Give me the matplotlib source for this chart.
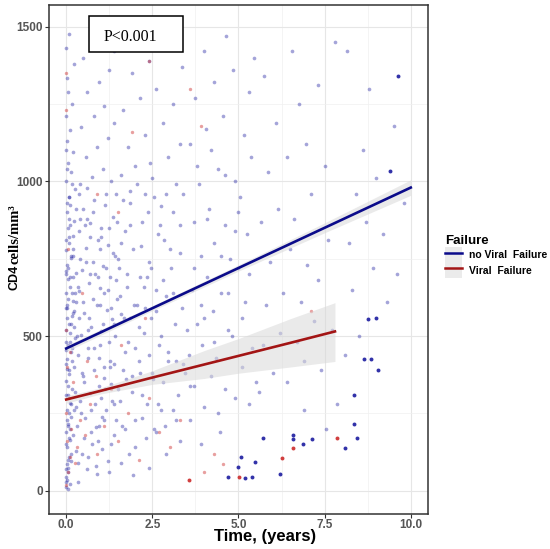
import matplotlib
matplotlib.use("Agg")
import matplotlib.pyplot as plt
from matplotlib.lines import Line2D
from matplotlib.patches import Patch, Rectangle
from matplotlib.ticker import MultipleLocator

# CD4 count vs time, coloured by viral failure

# no viral failure: follow-up time (years), CD4 cells/mm3
blue_t = [
    0.0, 0.02, 0.05, 0.01, 0.08, 0.03, 0.12, 0.0, 0.06, 0.15, 0.02, 0.1, 0.04, 0.18, 0.0, 0.07, 0.22, 0.01, 0.13, 0.05,
    0.25, 0.0, 0.09, 0.16, 0.03, 0.2, 0.0, 0.11, 0.06, 0.27, 0.02, 0.14, 0.0, 0.08, 0.19, 0.04, 0.23, 0.01, 0.12, 0.07,
    0.26, 0.0, 0.15, 0.05, 0.21, 0.02, 0.1, 0.0, 0.17, 0.06, 0.01, 0.24, 0.0, 0.09, 0.0, 0.04, 0.1, 0.14, 0.0, 0.2,
    0.07, 0.28, 0.03, 0.17, 0.0, 0.11, 0.24, 0.05, 0.19, 0.0, 0.13, 0.28, 0.08, 0.0, 0.22,
    0.35, 0.6, 0.9, 1.2, 0.45, 0.75, 1.05, 1.4, 0.32, 0.55, 0.85, 1.15, 1.45, 0.4, 0.7, 1.0, 1.3, 0.5, 0.8, 1.1,
    1.38, 0.33, 0.62, 0.95, 1.25, 0.42, 0.72, 1.02, 1.33, 0.52, 0.88, 1.18, 1.48, 0.36, 0.66, 0.98, 1.28, 0.47, 0.78, 1.08,
    1.42, 0.58, 0.92, 1.22, 0.38, 0.68, 1.0, 1.35, 0.5, 0.82, 1.12, 1.45, 0.4, 0.74, 1.06, 1.3, 0.56, 0.9, 1.2, 0.44,
    0.8, 1.1, 1.4, 0.6, 0.95, 1.25, 0.48, 0.85, 1.15, 1.38, 0.37, 0.64, 0.97, 1.27, 0.53, 0.83, 1.13, 0.43, 0.73, 1.03,
    1.33, 0.63, 0.93, 1.23, 0.39, 0.69, 1.09, 1.39, 0.59, 0.99,
    1.6, 2.0, 2.4, 2.9, 3.3, 1.7, 2.2, 2.6, 3.1, 1.55, 1.9, 2.35, 2.8, 3.25, 1.65, 2.1, 2.5, 2.95, 3.4, 1.8,
    2.25, 2.7, 3.15, 1.6, 2.05, 2.45, 2.9, 3.35, 1.75, 2.15, 2.6, 3.05, 1.5, 1.95, 2.4, 2.85, 3.3, 1.7, 2.2, 2.65,
    3.1, 1.85, 2.3, 2.75, 3.2, 1.6, 2.0, 2.5, 2.95, 1.8, 2.3, 2.8, 3.3, 1.65, 2.15, 2.6, 3.1, 1.9, 2.4, 2.9,
    3.35, 2.2, 3.0, 2.55, 3.2, 1.95, 2.75, 3.45, 2.35, 1.85,
    3.6, 4.0, 4.4, 4.9, 5.3, 3.7, 4.2, 4.6, 5.1, 3.55, 3.95, 4.35, 4.8, 5.4, 3.8, 4.25, 4.7, 5.2, 3.65, 4.1,
    4.5, 5.0, 3.9, 4.3, 4.75, 5.25, 3.7, 4.15, 4.6, 5.05, 3.85, 4.4, 4.9, 5.35, 3.6, 4.05, 4.55, 5.15, 3.75, 4.3,
    4.85, 5.3, 4.0, 4.65, 5.45, 4.45, 3.9, 5.5,
    5.6, 6.0, 6.4, 6.9, 7.4, 5.7, 6.2, 6.7, 7.2, 7.7, 5.8, 6.3, 6.8, 7.3, 5.9, 6.5, 7.0, 7.6, 5.65, 6.15,
    6.6, 7.1, 5.85, 6.4, 6.95, 7.5, 6.1, 6.75, 7.3, 5.75, 6.55, 7.8, 7.85, 6.9, 7.55,
    8.1, 8.5, 9.3, 8.3, 8.9, 9.6, 8.2, 8.7, 9.2, 9.8, 8.4, 9.0, 8.6, 9.5, 8.8, 8.15,
]
blue_cd4 = [
    12, 35, 60, 88, 110, 140, 165, 190, 215, 240, 262, 285, 310, 330, 355, 378, 400, 425, 448, 470,
    495, 520, 540, 565, 590, 612, 640, 660, 685, 705, 730, 752, 778, 800, 825, 850, 872, 900, 925, 950,
    975, 1000, 1030, 1060, 1095, 1130, 1165, 1210, 1250, 1290, 1335, 1380, 1430, 1475, 45, 75, 22, 95, 150, 180,
    250, 270, 395, 420, 455, 510, 580, 620, 690, 710, 760, 610, 880, 590, 530,
    30, 70, 55, 95, 120, 150, 135, 180, 210, 235, 205, 260, 230, 290, 315, 300, 345, 370, 390, 365,
    410, 440, 460, 430, 480, 505, 530, 515, 555, 575, 600, 585, 620, 645, 670, 655, 690, 715, 740, 725,
    760, 785, 810, 795, 840, 865, 850, 885, 910, 940, 925, 960, 990, 1015, 1040, 1000, 1080, 1110, 1140, 1175,
    1210, 1245, 1190, 1290, 1320, 1360, 1400, 1440, 1470, 1420, 560, 520, 470, 420, 350, 280, 330, 250, 190, 240,
    290, 110, 160, 60, 750, 700, 640, 540, 880, 780,
    90, 140, 75, 120, 160, 200, 235, 190, 260, 290, 320, 280, 350, 310, 390, 420, 380, 450, 410, 480,
    510, 470, 540, 570, 600, 560, 630, 590, 660, 690, 650, 720, 750, 780, 740, 810, 770, 840, 870, 830,
    900, 930, 960, 920, 990, 1020, 1050, 1010, 1080, 1110, 1150, 1190, 1120, 1230, 1270, 1300, 1250, 1350, 1390, 1430,
    1370, 1480, 1460, 200, 230, 50, 260, 380, 690, 560,
    230, 270, 250, 300, 280, 340, 370, 330, 400, 440, 470, 430, 500, 460, 540, 580, 520, 610, 650, 690,
    640, 720, 760, 800, 750, 830, 870, 910, 860, 950, 990, 1040, 1000, 1080, 1120, 1170, 1210, 1150, 1270, 1320,
    1360, 1290, 1420, 1470, 1400, 190, 150, 350,
    320, 380, 350, 420, 390, 470, 510, 480, 550, 520, 600, 640, 610, 680, 740, 780, 730, 810, 870, 910,
    880, 960, 1030, 1080, 1120, 1050, 1190, 1250, 1310, 1340, 1420, 1450, 280, 260, 200,
    440, 500, 610, 650, 720, 700, 800, 870, 830, 930, 960, 1010, 1100, 1180, 1300, 1420,
]
# extra no-failure points where the cloud is densest (first years, below 1000)
blue_early_t = [
    0.0, 0.04, 0.09, 0.01, 0.14, 0.05, 0.0, 0.11, 0.03, 0.18, 0.0, 0.07, 0.02, 0.16, 0.0, 0.21, 0.06, 0.0, 0.12, 0.26,
    0.3, 0.34, 0.41, 0.46, 0.51, 0.57, 0.61, 0.67, 0.71, 0.77, 0.81, 0.87, 0.91, 0.96, 1.01, 1.07, 1.11, 1.16, 1.21, 1.26,
    1.31, 1.36, 1.41, 1.46, 1.51, 1.56, 1.61, 1.66, 1.71, 1.76, 1.81, 1.86, 1.91, 1.96, 2.01, 2.06, 2.11, 2.16, 2.21, 2.26,
    2.31, 2.36, 2.41, 2.46, 2.51, 2.56, 2.61, 2.66, 2.71, 2.76, 2.81, 2.86, 2.91, 2.96, 3.01, 0.33, 0.48, 0.63, 0.79, 0.94,
    1.09, 1.24, 1.39, 1.54, 1.69, 1.84, 1.99, 2.14, 2.29, 2.44, 0.38, 0.54, 0.69, 0.84, 0.99, 1.14, 1.29, 1.44, 1.59, 1.74,
    0.0, 0.02, 0.05, 0.08, 0.1, 0.13, 0.15, 0.17, 0.2, 0.23, 0.25, 0.27, 0.29, 0.02, 0.07, 0.0, 0.0, 0.04, 0.19, 0.12,
    3.1, 3.3, 3.5, 3.7, 3.9, 4.1, 4.3, 4.5, 4.7, 4.9, 5.1, 5.3, 3.4, 3.8, 4.2, 4.6, 5.0, 3.2, 3.6, 4.0,
]
blue_early_cd4 = [
    30, 100, 170, 230, 280, 340, 410, 480, 560, 640, 700, 820, 930, 990, 1100, 760, 5, 70, 200, 320,
    500, 660, 880, 380, 170, 740, 980, 560, 260, 900, 460, 80, 690, 340, 820, 540, 230, 960, 650, 400,
    150, 770, 500, 870, 330, 630, 210, 940, 450, 700, 120, 860, 370, 600, 230, 990, 530, 790, 310, 660,
    170, 900, 440, 720, 360, 950, 580, 280, 860, 500, 680, 210, 960, 420, 780, 90, 610, 430, 620, 210,
    400, 850, 280, 720, 560, 970, 460, 380, 590, 1060, 960, 860, 820, 700, 600, 720, 590, 680, 800, 360,
    480, 600, 720, 390, 860, 540, 120, 460, 780, 260, 640, 910, 130, 1040, 950, 810, 310, 210, 575, 690,
    640, 860, 520, 720, 600, 880, 480, 760, 640, 840, 560, 700, 960, 1050, 1100, 1020, 900, 420, 340, 560,
]
# overlapping (darker) no-failure points
blue_dense_t = [4.98, 5.07, 4.7, 5.19, 5.39, 5.48, 5.71, 8.75, 9.0, 8.64, 8.84, 9.04, 8.35, 8.35, 8.43, 8.09,
                7.13, 6.87, 6.58, 6.58, 6.2, 9.62, 9.39]
blue_dense_cd4 = [77, 110, 45, 42, 45, 94, 171, 555, 558, 426, 426, 390, 310, 216, 171, 139,
                  168, 152, 181, 168, 55, 1342, 1032]

# viral failure
red_t = [0.0, 0.05, 0.1, 0.02, 0.15, 0.0, 0.08, 0.2, 0.03, 0.12, 0.0, 0.25, 0.3, 0.4, 0.55, 0.7, 0.9, 1.1, 1.3, 0.6,
         0.85, 1.5, 1.8, 2.1, 2.4, 2.7, 3.0, 3.3, 4.0, 4.3, 4.55, 1.6, 2.3, 0.45, 0.0, 0.0, 0.9, 1.5, 1.9, 2.4,
         3.6, 3.9, 0.05, 7.1]
red_cd4 = [20, 60, 110, 160, 200, 250, 300, 350, 400, 450, 520, 90, 140, 230, 180, 280, 120, 210, 330, 420,
           370, 160, 250, 100, 300, 190, 140, 230, 60, 120, 85, 470, 560, 640, 1350, 1230, 960, 900, 1160, 1390,
           1300, 1180, 780, 580]
red_dense_t = [3.57, 5.01, 7.86, 6.58, 6.26]
red_dense_cd4 = [35, 45, 171, 139, 106]

# linear fits with confidence band
blue_fit_t = [0, 2.5, 5, 7.5, 10]
blue_fit = [460, 590, 720, 850, 980]
blue_lo = [450, 582, 710, 834, 955]
blue_hi = [470, 598, 730, 866, 1005]

red_fit_t = [0, 1, 2.5, 4, 5, 6.5, 7.8]
red_fit = [295, 323, 366, 408, 436, 478, 515]
red_lo = [283, 313, 344, 363, 380, 400, 418]
red_hi = [307, 333, 388, 453, 492, 556, 608]

blue_col = "#1c1ca0"
red_col = "#cc2a2a"
blue_line = "#0b0b8a"
red_line = "#a31515"
band_col = "#d9d9d9"

fig = plt.figure(figsize=(5.5, 5.49), dpi=100)
ax = fig.add_axes([49 / 550, 35 / 549, 379 / 550, 509 / 549])

ax.scatter(blue_t + blue_early_t, blue_cd4 + blue_early_cd4, s=7, color=blue_col, alpha=0.4,
           linewidths=0, zorder=2)
ax.scatter(red_t, red_cd4, s=6, color=red_col, alpha=0.45, linewidths=0, zorder=2)
ax.scatter(blue_dense_t, blue_dense_cd4, s=8, color=blue_col, alpha=0.9, linewidths=0, zorder=2)
ax.scatter(red_dense_t, red_dense_cd4, s=8, color=red_col, alpha=0.9, linewidths=0, zorder=2)

ax.fill_between(blue_fit_t, blue_lo, blue_hi, color=band_col, alpha=0.55, lw=0, zorder=3)
ax.fill_between(red_fit_t, red_lo, red_hi, color=band_col, alpha=0.55, lw=0, zorder=3)
ax.plot(blue_fit_t, blue_fit, color=blue_line, lw=1.9, zorder=4)
ax.plot(red_fit_t, red_fit, color=red_line, lw=1.9, zorder=4)

ax.set_xlim(-0.5, 10.5)
ax.set_ylim(-75, 1570)
ax.xaxis.set_major_locator(MultipleLocator(2.5))
ax.xaxis.set_minor_locator(MultipleLocator(1.25))
ax.yaxis.set_major_locator(MultipleLocator(500))
ax.yaxis.set_minor_locator(MultipleLocator(250))
ax.grid(which="major", color="#e6e6e6", lw=0.8, zorder=0)
ax.grid(which="minor", color="#f0f0f0", lw=0.5, zorder=0)
ax.set_axisbelow(True)
ax.tick_params(which="minor", length=0)
ax.tick_params(which="major", length=3, color="#333333", width=0.8, pad=1.5)
ax.tick_params(axis="x", pad=0.5)
ax.set_xticks([0, 2.5, 5, 7.5, 10])
ax.set_xticklabels(["0.0", "2.5", "5.0", "7.5", "10.0"])
for lab in ax.get_xticklabels() + ax.get_yticklabels():
    lab.set_fontfamily("Liberation Sans")
    lab.set_fontweight("bold")
    lab.set_fontsize(8.5)
    lab.set_color("#555555")
for sp in ax.spines.values():
    sp.set_color("#333333")
    sp.set_linewidth(1.1)

ax.set_xlabel("Time, (years)", fontfamily="Liberation Sans", fontweight="bold", fontsize=12)
ax.xaxis.set_label_coords((265 - 49) / 379, -15.5 / 509)
ax.xaxis.label.set_va("top")

fig.text(15 / 550, 1 - 290 / 549, "CD4", rotation=90, ha="center", va="bottom",
         fontfamily="Liberation Sans", fontweight="bold", fontsize=9)
fig.text(15 / 550, 1 - 264 / 549, "cells/mm\u00b3", rotation=90, ha="center", va="bottom",
         fontfamily="Liberation Serif", fontweight="bold", fontsize=10.5)

# p-value box
ax.add_patch(Rectangle(((89 - 49) / 379, (514 - 52) / 509), 94 / 379, 36 / 509,
                       transform=ax.transAxes, fill=True, facecolor="white",
                       edgecolor="black", lw=1.1, zorder=6))
ax.text((130 - 49) / 379, (514 - 37) / 509, "P<0.001", transform=ax.transAxes,
        ha="center", va="center", fontfamily="Liberation Serif", fontsize=11.5, zorder=7)

handles = [(Patch(facecolor="#ebebeb", edgecolor="none"), Line2D([], [], color=blue_line, lw=1.8)),
           (Patch(facecolor="#ebebeb", edgecolor="none"), Line2D([], [], color=red_line, lw=1.8))]
leg = fig.legend(handles, ["no Viral  Failure", "Viral  Failure"], loc="upper left",
                 bbox_to_anchor=(438 / 550, 1 - 228 / 549), frameon=False,
                 title="Failure", handlelength=1.6, handleheight=1.9, labelspacing=0.0,
                 handletextpad=0.7, borderpad=0.2,
                 prop={"family": "Liberation Sans", "weight": "bold", "size": 7.5})
leg.get_title().set_fontfamily("Liberation Sans")
leg.get_title().set_fontweight("bold")
leg.get_title().set_fontsize(9.5)
leg._legend_box.align = "left"

fig.savefig("out.png", dpi=100)
